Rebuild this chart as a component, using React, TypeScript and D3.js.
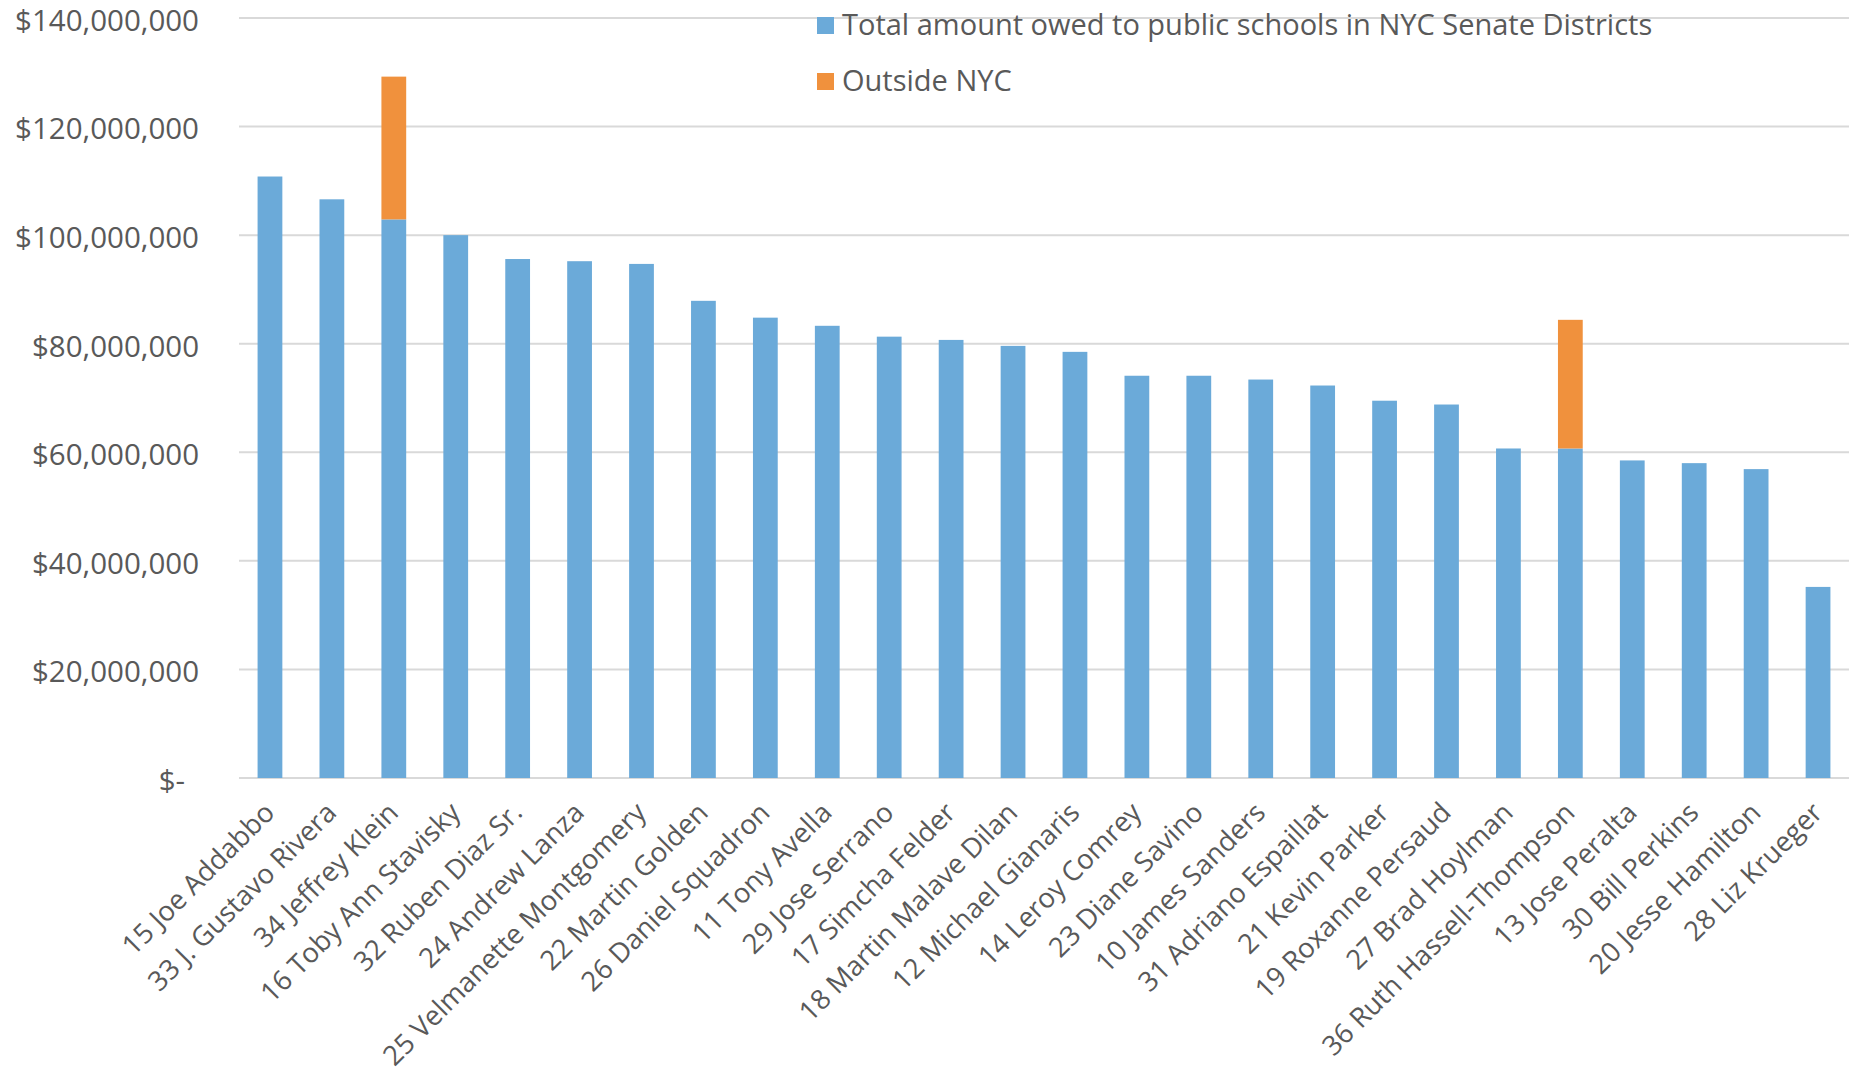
import React from "react";
import * as d3 from "d3";

const categories = [
  "15 Joe Addabbo",
  "33 J. Gustavo Rivera",
  "34 Jeffrey Klein",
  "16 Toby Ann Stavisky",
  "32 Ruben Diaz Sr.",
  "24 Andrew Lanza",
  "25 Velmanette Montgomery",
  "22 Martin Golden",
  "26 Daniel Squadron",
  "11 Tony Avella",
  "29 Jose Serrano",
  "17 Simcha Felder",
  "18 Martin Malave Dilan",
  "12 Michael Gianaris",
  "14 Leroy Comrey",
  "23 Diane Savino",
  "10 James Sanders",
  "31 Adriano Espaillat",
  "21 Kevin Parker",
  "19 Roxanne Persaud",
  "27 Brad Hoylman",
  "36 Ruth Hassell-Thompson",
  "13 Jose Peralta",
  "30 Bill Perkins",
  "20 Jesse Hamilton",
  "28 Liz Krueger",
];

const nycValues = [
  110.8, 106.6, 102.9, 100.0, 95.6, 95.2, 94.7, 87.9, 84.8, 83.3, 81.3, 80.7,
  79.6, 78.5, 74.1, 74.1, 73.4, 72.3, 69.5, 68.8, 60.7, 60.7, 58.5, 58.0, 56.9,
  35.2,
].map((v) => v * 1e6);

const outsideValues = [
  0, 0, 26.3, 0, 0, 0, 0, 0, 0, 0, 0, 0, 0, 0, 0, 0, 0, 0, 0, 0, 0, 23.7, 0, 0,
  0, 0,
].map((v) => v * 1e6);

const yTicks = [0, 20e6, 40e6, 60e6, 80e6, 100e6, 120e6, 140e6];

const seriesNames = [
  "Total amount owed to public schools in NYC Senate Districts",
  "Outside NYC",
];
const colors = ["#6BAAD9", "#F0913D"];

const W = 1862;
const H = 1076;
const margin = { left: 239, right: 13, top: 18, bottom: 298 };
const FONT = "'Open Sans', 'Noto Sans', sans-serif";
const TEXT = "#595959";

export default function App() {
  const x = d3
    .scaleBand<string>()
    .domain(categories)
    .range([margin.left, W - margin.right])
    .paddingInner(0.6)
    .paddingOuter(0.3);
  const y = d3
    .scaleLinear()
    .domain([0, 140e6])
    .range([H - margin.bottom, margin.top]);

  const fmt = (v: number) => (v === 0 ? "$-" : "$" + d3.format(",")(v));

  const bw = x.bandwidth();

  return (
    <div style={{ position: "absolute", left: 0, top: 0 }}>
      <svg width={W} height={H} style={{ display: "block", background: "#fff" }}>
        {yTicks.map((t) => (
          <line
            key={"g" + t}
            x1={margin.left}
            x2={W - margin.right}
            y1={y(t)}
            y2={y(t)}
            stroke="#D9D9D9"
            strokeWidth={2}
          />
        ))}
        {yTicks.map((t) => (
          <text
            key={"t" + t}
            x={t === 0 ? 185 : 199}
            y={y(t) + 5}
            textAnchor="end"
            dominantBaseline="middle"
            fontFamily={FONT}
            fontSize={29.5}
            fill={TEXT}
          >
            {fmt(t)}
          </text>
        ))}
        {categories.map((c, i) => (
          <g key={c}>
            <rect
              x={x(c)}
              y={y(nycValues[i])}
              width={bw}
              height={y(0) - y(nycValues[i])}
              fill={colors[0]}
            />
            {outsideValues[i] > 0 && (
              <rect
                x={x(c)}
                y={y(nycValues[i] + outsideValues[i])}
                width={bw}
                height={y(nycValues[i]) - y(nycValues[i] + outsideValues[i])}
                fill={colors[1]}
              />
            )}
          </g>
        ))}
        {categories.map((c) => {
          const cx = (x(c) as number) + bw / 2 + 1;
          const cy = y(0) + 31;
          return (
            <text
              key={"l" + c}
              transform={`translate(${cx},${cy}) rotate(-45)`}
              textAnchor="end"
              dominantBaseline="middle"
              fontFamily={FONT}
              fontSize={27.5}
              fill={TEXT}
            >
              {c}
            </text>
          );
        })}
        {seriesNames.map((s, i) => (
          <g key={s} transform={`translate(817,${25 + i * 56})`}>
            <rect x={0} y={-8} width={17} height={17} fill={colors[i]} />
            <text
              x={25}
              y={2}
              dominantBaseline="middle"
              fontFamily={FONT}
              fontSize={29}
              fill={TEXT}
            >
              {s}
            </text>
          </g>
        ))}
      </svg>
    </div>
  );
}
